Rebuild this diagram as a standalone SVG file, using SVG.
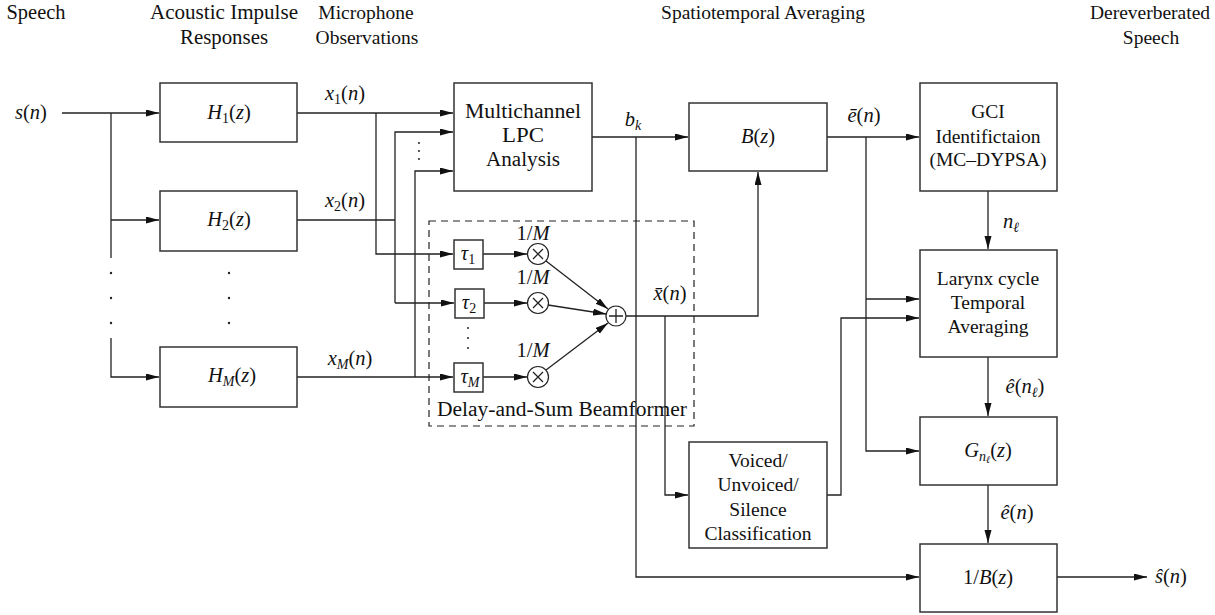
<svg xmlns="http://www.w3.org/2000/svg" width="1215" height="615" viewBox="0 0 1215 615">
<style>
  .box { fill: #fff; stroke: #333; stroke-width: 1.5; }
  .ln { fill: none; stroke: #222; stroke-width: 1.3; }
  .arr { marker-end: url(#ah); }
  .t { font-family: "Liberation Serif", "Times New Roman", serif; font-size: 19.5px; fill: #111; text-anchor: middle; }
  .cm { font-family: "Liberation Serif", "Times New Roman", serif; font-size: 20.5px; fill: #111; text-anchor: middle; }
  .m { font-family: "Liberation Serif", "Times New Roman", serif; font-size: 20.5px; fill: #111; text-anchor: middle; font-style: italic; }
  .r { font-style: normal; }
  .sub { font-size: 14px; }
  .dot { fill: #222; }
</style>
<defs>
  <marker id="ah" markerUnits="userSpaceOnUse" markerWidth="14" markerHeight="8" refX="13" refY="3.5" orient="auto">
    <path d="M0,0 L13,3.5 L0,7 z" fill="#111"/>
  </marker>
</defs>
<rect width="1215" height="615" fill="#fff"/>

<g id="headers">
  <text class="cm" x="36" y="19" textLength="59" lengthAdjust="spacingAndGlyphs">Speech</text>
  <text class="cm" x="224" y="19" textLength="148" lengthAdjust="spacingAndGlyphs">Acoustic Impulse</text>
  <text class="cm" x="224" y="44" textLength="88" lengthAdjust="spacingAndGlyphs">Responses</text>
  <text class="t" x="366" y="19">Microphone</text>
  <text class="t" x="367" y="44">Observations</text>
  <text class="t" x="763" y="19">Spatiotemporal Averaging</text>
  <text class="t" x="1150" y="19">Dereverberated</text>
  <text class="t" x="1151" y="44">Speech</text>
</g>

<g id="connectors">
  <!-- input split -->
  <path class="ln arr" d="M62,113 H159"/>
  <path class="ln" d="M111,113 V258"/>
  <path class="ln arr" d="M111,220 H159"/>
  <path class="ln arr" d="M111,338 V377 H159"/>
  <!-- x1 -->
  <path class="ln arr" d="M297,113 H453"/>
  <path class="ln arr" d="M376,113 V254 H453"/>
  <!-- x2 -->
  <path class="ln" d="M297,220 H395"/>
  <path class="ln arr" d="M395,303 V132 H453"/>
  <path class="ln arr" d="M395,303 H454"/>
  <!-- xM -->
  <path class="ln arr" d="M297,377 H453"/>
  <path class="ln arr" d="M415,377 V171 H453"/>
  <!-- tau to multipliers -->
  <path class="ln arr" d="M483,254 H527"/>
  <path class="ln arr" d="M484,303 H527"/>
  <path class="ln arr" d="M483,377 H527"/>
  <!-- multipliers to sum -->
  <path class="ln arr" d="M546,261 L608,309"/>
  <path class="ln arr" d="M548,305 L606,314"/>
  <path class="ln arr" d="M546,370 L608,323"/>
  <!-- sum output -->
  <path class="ln arr" d="M626,316 H758 V172"/>
  <path class="ln arr" d="M665,316 V495 H688"/>
  <!-- b_k -->
  <path class="ln arr" d="M592,137 H688"/>
  <path class="ln arr" d="M636,137 V577 H919"/>
  <!-- e bar -->
  <path class="ln arr" d="M827,137 H919"/>
  <path class="ln arr" d="M866,137 V451 H919"/>
  <path class="ln arr" d="M866,299 H919"/>
  <!-- VUS output -->
  <path class="ln arr" d="M827,495 H841 V318 H919"/>
  <!-- vertical chain -->
  <path class="ln arr" d="M988,191 V249"/>
  <path class="ln arr" d="M988,357 V416"/>
  <path class="ln arr" d="M988,485 V543"/>
  <!-- output -->
  <path class="ln arr" d="M1057,577 H1147"/>
</g>

<g id="dots">
  <circle class="dot" cx="111" cy="273" r="1.2"/>
  <circle class="dot" cx="111" cy="298" r="1.2"/>
  <circle class="dot" cx="111" cy="323" r="1.2"/>
  <circle class="dot" cx="229" cy="273" r="1.2"/>
  <circle class="dot" cx="229" cy="298" r="1.2"/>
  <circle class="dot" cx="229" cy="323" r="1.2"/>
  <circle class="dot" cx="419" cy="143" r="1"/>
  <circle class="dot" cx="419" cy="151" r="1"/>
  <circle class="dot" cx="419" cy="159" r="1"/>
  <circle class="dot" cx="468" cy="328" r="1"/>
  <circle class="dot" cx="468" cy="338" r="1"/>
  <circle class="dot" cx="468" cy="348" r="1"/>
</g>

<g id="labels">
  <text class="m" x="31" y="119">s<tspan class="r">(</tspan>n<tspan class="r">)</tspan></text>
  <text class="m" x="345" y="100">x<tspan class="r sub" dy="4">1</tspan><tspan class="r" dy="-4">(</tspan>n<tspan class="r">)</tspan></text>
  <text class="m" x="345" y="207">x<tspan class="r sub" dy="4">2</tspan><tspan class="r" dy="-4">(</tspan>n<tspan class="r">)</tspan></text>
  <text class="m" x="350" y="365">x<tspan class="sub" dy="4">M</tspan><tspan class="r" dy="-4">(</tspan>n<tspan class="r">)</tspan></text>
  <text class="m" x="633" y="126">b<tspan class="sub" dy="4">k</tspan></text>
  <text class="m" x="864" y="122">ē<tspan class="r">(</tspan>n<tspan class="r">)</tspan></text>
  <text class="m" x="670" y="300">x̄<tspan class="r">(</tspan>n<tspan class="r">)</tspan></text>
  <text class="m" x="1011" y="228">n<tspan class="sub" dy="4">ℓ</tspan></text>
  <text class="m" x="1025" y="393">ê<tspan class="r">(</tspan>n<tspan class="sub" dy="4">ℓ</tspan><tspan class="r" dy="-4">)</tspan></text>
  <text class="m" x="1017" y="519">ê<tspan class="r">(</tspan>n<tspan class="r">)</tspan></text>
  <text class="m" x="1171" y="583">ŝ<tspan class="r">(</tspan>n<tspan class="r">)</tspan></text>
</g>

<g id="H1">
  <rect class="box" x="160" y="83" width="137" height="59"/>
  <text class="m" x="229" y="119">H<tspan class="r sub" dy="4">1</tspan><tspan class="r" dy="-4">(</tspan>z<tspan class="r">)</tspan></text>
</g>
<g id="H2">
  <rect class="box" x="160" y="191" width="137" height="60"/>
  <text class="m" x="229" y="226">H<tspan class="r sub" dy="4">2</tspan><tspan class="r" dy="-4">(</tspan>z<tspan class="r">)</tspan></text>
</g>
<g id="HM">
  <rect class="box" x="160" y="347" width="137" height="60"/>
  <text class="m" x="232" y="382">H<tspan class="sub" dy="4">M</tspan><tspan class="r" dy="-4">(</tspan>z<tspan class="r">)</tspan></text>
</g>

<g id="LPC">
  <rect class="box" x="454" y="83" width="138" height="108"/>
  <text class="cm" x="523" y="118" textLength="116" lengthAdjust="spacingAndGlyphs">Multichannel</text>
  <text class="cm" x="523" y="142" textLength="42" lengthAdjust="spacingAndGlyphs">LPC</text>
  <text class="cm" x="523" y="166" textLength="74" lengthAdjust="spacingAndGlyphs">Analysis</text>
</g>

<g id="beamformer">
  <rect x="429" y="221" width="265" height="205" fill="none" stroke="#222" stroke-width="1.2" stroke-dasharray="7,5"/>
  <text class="cm" x="562" y="416" textLength="250" lengthAdjust="spacingAndGlyphs">Delay-and-Sum Beamformer</text>
</g>
<g id="tau1">
  <rect class="box" x="454" y="240" width="29" height="29" stroke-width="1.3"/>
  <text class="m" x="468" y="260">τ<tspan class="r sub" dy="4">1</tspan></text>
</g>
<g id="tau2">
  <rect class="box" x="455" y="289" width="29" height="29" stroke-width="1.3"/>
  <text class="m" x="469" y="309">τ<tspan class="r sub" dy="4">2</tspan></text>
</g>
<g id="tauM">
  <rect class="box" x="454" y="363" width="29" height="29" stroke-width="1.3"/>
  <text class="m" x="470" y="383">τ<tspan class="sub" dy="4">M</tspan></text>
</g>
<g id="mult1">
  <circle cx="538" cy="254" r="10.5" fill="#fff" stroke="#222" stroke-width="1.2"/>
  <path class="ln" d="M533,249 L543,259 M543,249 L533,259"/>
  <text class="m" x="533" y="240"><tspan class="r">1/</tspan>M</text>
</g>
<g id="mult2">
  <circle cx="538" cy="303" r="10.5" fill="#fff" stroke="#222" stroke-width="1.2"/>
  <path class="ln" d="M533,298 L543,308 M543,298 L533,308"/>
  <text class="m" x="533" y="284"><tspan class="r">1/</tspan>M</text>
</g>
<g id="multM">
  <circle cx="538" cy="377" r="10.5" fill="#fff" stroke="#222" stroke-width="1.2"/>
  <path class="ln" d="M533,372 L543,382 M543,372 L533,382"/>
  <text class="m" x="533" y="357"><tspan class="r">1/</tspan>M</text>
</g>
<g id="sum">
  <circle cx="616" cy="316" r="10" fill="#fff" stroke="#222" stroke-width="1.2"/>
  <path class="ln" d="M609,316 H623 M616,309 V323"/>
</g>

<g id="Bz">
  <rect class="box" x="689" y="103" width="138" height="68"/>
  <text class="m" x="758" y="143">B<tspan class="r">(</tspan>z<tspan class="r">)</tspan></text>
</g>
<g id="VUS">
  <rect class="box" x="689" y="442" width="138" height="106"/>
  <text class="t" x="758" y="467">Voiced/</text>
  <text class="t" x="758" y="491">Unvoiced/</text>
  <text class="t" x="758" y="516">Silence</text>
  <text class="t" x="758" y="540">Classification</text>
</g>
<g id="GCI">
  <rect class="box" x="920" y="83" width="137" height="108"/>
  <text class="t" x="988" y="118">GCI</text>
  <text class="t" x="988" y="143">Identifictaion</text>
  <text class="t" x="988" y="166">(MC–DYPSA)</text>
</g>
<g id="Larynx">
  <rect class="box" x="920" y="250" width="137" height="107"/>
  <text class="t" x="988" y="285">Larynx cycle</text>
  <text class="t" x="988" y="309">Temporal</text>
  <text class="t" x="988" y="333">Averaging</text>
</g>
<g id="G">
  <rect class="box" x="920" y="417" width="137" height="68"/>
  <text class="m" x="988" y="457">G<tspan class="sub" dy="4">n</tspan><tspan font-size="10" dy="2">ℓ</tspan><tspan class="r" dy="-6">(</tspan>z<tspan class="r">)</tspan></text>
</g>
<g id="invB">
  <rect class="box" x="920" y="544" width="137" height="68"/>
  <text class="m" x="988" y="584"><tspan class="r">1/</tspan>B<tspan class="r">(</tspan>z<tspan class="r">)</tspan></text>
</g>
</svg>
